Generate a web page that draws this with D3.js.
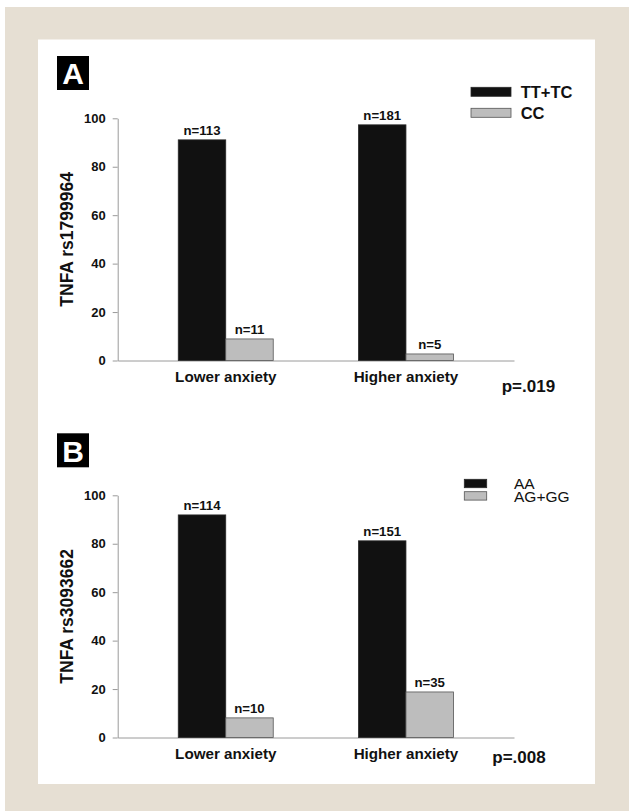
<!DOCTYPE html>
<html>
<head>
<meta charset="utf-8">
<script src="https://cdn.jsdelivr.net/npm/d3@7"></script>
<style>
  body { margin: 0; padding: 0; background: #ffffff; }
  svg { display: block; font-family: "Liberation Sans", Arial, sans-serif; }
</style>
</head>
<body>
<div id="chart"></div>
<script>
const categories = ["Lower anxiety", "Higher anxiety"];
const yTicks = [0, 20, 40, 60, 80, 100];

// panel A - TNFA rs1799964 (percent of group)
const seriesA = ["TT+TC", "CC"];
const valuesA = [[91.1, 8.9], [97.3, 2.7]];
const countsA = [[113, 11], [181, 5]];

// panel B - TNFA rs3093662
const seriesB = ["AA", "AG+GG"];
const valuesB = [[91.9, 8.1], [81.2, 18.8]];
const countsB = [[114, 10], [151, 35]];

const width = 629;
const height = 811;
const barColors = ["#111111", "#bdbdbd"];
const barStrokes = ["#2a2a2a", "#555555"];

const svg = d3.select("#chart")
  .append("svg")
  .attr("width", width)
  .attr("height", height);

// page frame
svg.append("rect").attr("x", 0).attr("y", 0).attr("width", width).attr("height", height).attr("fill", "#ffffff");
svg.append("rect").attr("x", 5).attr("y", 7).attr("width", width - 5).attr("height", height - 7).attr("fill", "#e6dfd3");
svg.append("rect").attr("x", 38).attr("y", 39.5).attr("width", 557).attr("height", 744.5).attr("fill", "#ffffff");

function drawPanel(opt) {
  const x0 = d3.scaleBand()
    .domain(categories)
    .range([117.7, 514])
    .paddingInner(0.473)
    .paddingOuter(0.336);

  const x1 = d3.scaleBand()
    .domain(opt.series)
    .range([0, x0.bandwidth()]);

  const y = d3.scaleLinear()
    .domain([0, 100])
    .range([opt.bottom, opt.bottom - 242.2]);

  const g = svg.append("g");

  // panel letter
  g.append("rect")
    .attr("x", 57).attr("y", opt.boxY)
    .attr("width", 32).attr("height", 34)
    .attr("fill", "#000");
  g.append("text")
    .attr("x", 73).attr("y", opt.boxY + 28.3)
    .attr("text-anchor", "middle")
    .attr("font-size", 30).attr("font-weight", "bold")
    .attr("fill", "#fff")
    .text(opt.letter);

  // y axis
  const yAxis = g.append("g")
    .attr("transform", "translate(117.7,0)")
    .call(d3.axisLeft(y).tickValues(yTicks).tickSize(5).tickSizeOuter(0).tickPadding(7));
  yAxis.select(".domain").attr("stroke", "#9a9a9a");
  yAxis.selectAll(".tick line").attr("stroke", "#9a9a9a");
  yAxis.selectAll(".tick text")
    .attr("font-size", 13).attr("font-weight", "bold")
    .attr("font-family", "'Liberation Sans', Arial, sans-serif")
    .attr("fill", "#111");

  g.append("text")
    .attr("transform", "translate(72.7," + (opt.bottom - 121.1) + ")rotate(-90)")
    .attr("text-anchor", "middle")
    .attr("font-size", 17.5).attr("font-weight", "bold")
    .attr("fill", "#111")
    .text(opt.title);

  // x axis
  const xAxis = g.append("g")
    .attr("transform", "translate(0," + opt.bottom + ")")
    .call(d3.axisBottom(x0).tickSize(0).tickSizeOuter(0).tickPadding(11));
  xAxis.select(".domain").attr("stroke", "#9a9a9a");
  xAxis.selectAll(".tick text")
    .attr("font-size", 15.2).attr("font-weight", "bold")
    .attr("font-family", "'Liberation Sans', Arial, sans-serif")
    .attr("fill", "#111");

  // bars
  const groups = g.append("g")
    .selectAll("g")
    .data(categories)
    .enter().append("g")
    .attr("transform", d => "translate(" + x0(d) + ",0)");

  groups.selectAll("rect")
    .data((d, i) => opt.values[i].map((v, j) => ({ key: opt.series[j], v: v, n: opt.counts[i][j], j: j })))
    .enter().append("rect")
    .attr("x", d => x1(d.key))
    .attr("y", d => y(d.v))
    .attr("width", x1.bandwidth())
    .attr("height", d => opt.bottom - y(d.v))
    .attr("fill", d => barColors[d.j])
    .attr("stroke", d => barStrokes[d.j])
    .attr("stroke-width", 0.8);

  groups.selectAll("text.n")
    .data((d, i) => opt.values[i].map((v, j) => ({ key: opt.series[j], v: v, n: opt.counts[i][j] })))
    .enter().append("text")
    .attr("class", "n")
    .attr("x", d => x1(d.key) + x1.bandwidth() / 2)
    .attr("y", d => y(d.v) - 4.5)
    .attr("text-anchor", "middle")
    .attr("font-size", 13.2).attr("font-weight", "bold")
    .attr("fill", "#111")
    .text(d => "n=" + d.n);

  // legend
  const leg = g.append("g");
  opt.series.forEach((s, i) => {
    leg.append("rect")
      .attr("x", opt.legend.x).attr("y", opt.legend.rectY[i])
      .attr("width", opt.legend.w).attr("height", opt.legend.h)
      .attr("fill", barColors[i])
      .attr("stroke", barStrokes[i]).attr("stroke-width", 0.8);
    leg.append("text")
      .attr("x", opt.legend.tx).attr("y", opt.legend.textY[i])
      .attr("font-size", opt.legend.size).attr("font-weight", opt.legend.weight)
      .attr("fill", "#111")
      .text(s);
  });

  // p value
  g.append("text")
    .attr("x", opt.p.x).attr("y", opt.p.y)
    .attr("font-size", 17).attr("font-weight", "bold")
    .attr("fill", "#111")
    .text(opt.p.text);
}

drawPanel({
  letter: "A",
  boxY: 56,
  bottom: 360.5,
  title: "TNFA rs1799964",
  series: seriesA,
  values: valuesA,
  counts: countsA,
  legend: { x: 471, w: 40, h: 9, rectY: [87.3, 108.3], tx: 520.7, textY: [97.7, 119], size: 16.5, weight: "bold" },
  p: { x: 501.7, y: 392, text: "p=.019" }
});

drawPanel({
  letter: "B",
  boxY: 433.3,
  bottom: 737.5,
  title: "TNFA rs3093662",
  series: seriesB,
  values: valuesB,
  counts: countsB,
  legend: { x: 464.3, w: 22.4, h: 8.4, rectY: [479.3, 491.7], tx: 514, textY: [488.5, 502], size: 15.5, weight: "normal" },
  p: { x: 492.3, y: 763.3, text: "p=.008" }
});
</script>
</body>
</html>
